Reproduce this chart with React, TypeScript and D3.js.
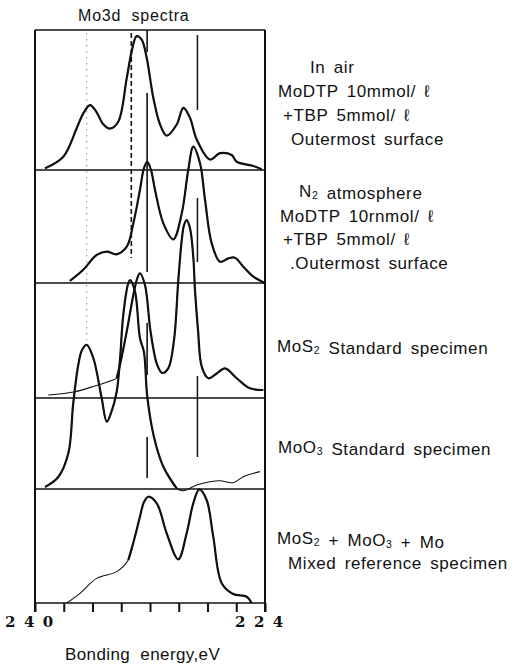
import React, { useEffect, useRef } from 'react';
import * as d3 from 'd3';

// [binding energy eV, intensity a.u.]
const inAir: [number, number][] = [
  [239.3, 1.2], [238.03, 9.5], [237.1, 29.8], [236.64, 40.5], [236.17, 46.4], [235.71, 41.2],
  [235.27, 32.9], [234.78, 29.6], [234.21, 34.5], [233.62, 65.5], [233.27, 84.9], [232.93, 95.6],
  [232.58, 93.2], [232.23, 80.1], [231.77, 51.6], [231.3, 32.5], [230.84, 24.5], [230.14, 32.5],
  [229.68, 44.4], [229.22, 37.3], [228.75, 21.8], [227.83, 7.5], [227.13, 12.0], [226.32, 10.7],
  [225.97, 5.9], [224.81, 2.9], [224.23, 0.5],
];
const n2Atmosphere: [number, number][] = [
  [237.57, 1.6], [236.66, 9.3], [235.71, 20.0], [235.01, 22.4], [234.32, 20.5], [233.62, 25.9],
  [233.16, 42.6], [232.7, 66.4], [232.42, 82.1], [232.19, 86.6], [231.93, 80.7], [231.65, 66.4],
  [231.07, 42.6], [230.38, 31.2], [229.79, 49.8], [229.34, 80.7], [228.99, 97.4], [228.52, 85.5],
  [228.17, 59.3], [227.71, 28.4], [227.13, 15.2], [226.55, 17.6], [226.09, 18.1], [225.51, 11.6],
  [224.81, 4.5], [224.0, 0],
];
const mos2Standard: [number, number][] = [
  [239.07, 2.1], [237.22, 4.5], [235.83, 8.6], [234.78, 12.1], [234.32, 14.3], [234.09, 23.6],
  [233.62, 47.4], [233.16, 73.6], [232.9, 85], [232.7, 89.1], [232.35, 80.7], [231.96, 47.4],
  [231.5, 23.6], [231.15, 17.9], [230.73, 21.2], [230.33, 41.4], [230.03, 84.3], [229.79, 112.9],
  [229.63, 123.6], [229.45, 127.1], [229.22, 121.4], [228.99, 100.9], [228.87, 77.1], [228.66, 48.6],
  [228.4, 22.4], [227.94, 14.1], [227.41, 17.1], [226.78, 21.2], [225.97, 14.1], [225.04, 6.9],
  [224.12, 5.7],
];
const moo3Standard: [number, number][] = [
  [239.3, 1.4], [238.38, 8.6], [237.68, 25.5], [237.34, 61.2], [236.99, 88.6], [236.73, 99.3],
  [236.4, 102.9], [235.94, 93.4], [235.36, 64.8], [235.01, 48.1], [234.71, 54.3], [234.32, 69.3],
  [234.09, 92.1], [233.86, 124.3], [233.51, 147.1], [233.39, 149.3], [233.04, 140.9], [232.7, 107.9],
  [232.42, 97.9], [232.19, 65.9], [231.73, 37.4], [231.07, 15.9], [230.14, 0.5], [229.68, -1.2],
  [228.75, 2.9], [227.83, 5.2], [227.13, 5.9], [226.21, 4.5], [225.51, 8.8], [224.35, 12.4],
];
const mixedReference: [number, number][] = [
  [237.79, 0], [236.87, 6.9], [235.71, 17.6], [234.32, 22.4], [233.51, 30.7], [233.11, 45],
  [232.7, 61.6], [232.42, 72.1], [232.12, 75.9], [231.53, 71.2], [230.84, 49.8], [230.03, 31.2],
  [229.45, 49.8], [228.99, 71.2], [228.57, 81.2], [228.06, 73.6], [227.6, 47.4], [227.01, 14.1],
  [226.21, 6.4], [225.27, 4.5], [224.93, 0],
];

// energies of the thick part of each trace (the rest is drawn thin)
const thickRanges: [number, number][] = [[240, 224], [240, 224], [234.35, 224], [240, 229.9], [233.6, 224]];

const tickValues = [240, 238, 236, 234, 232, 230, 228, 226, 224];
const tickLabels = ['240', '224'];
const refEnergies = [236.4, 233.3, 232.2, 228.7];

const labelBlocks = [
  ['In air', 'MoDTP 10mmol/ ℓ', '+TBP 5mmol/ ℓ', 'Outermost surface'],
  ['N_2 atmosphere', 'MoDTP 10rnmol/ ℓ', '+TBP 5mmol/ ℓ', '.Outermost surface'],
  ['MoS_2 Standard specimen'],
  ['MoO_3 Standard specimen'],
  ['MoS_2 + MoO_3 + Mo', 'Mixed reference specimen'],
];

const W = 518;
const H = 667;
const box = { left: 35, right: 265, top: 30, bottom: 603 };
const baselines = [170, 283, 398, 489, 603];
const labelPos = [
  [[310, 73], [278, 97], [283, 121], [291, 145]],
  [[299, 197], [280, 221.5], [283, 245], [290, 268.5]],
  [[277, 352]],
  [[278, 453]],
  [[277, 544], [288, 569]],
];
const refSegments = [
  { segs: [[33, 340]], dash: '1.5,4.5', w: 1, color: '#8a8a8a' },
  { segs: [[33, 258]], dash: '5,3', w: 1.6, color: '#111' },
  { segs: [[30, 52], [93, 272], [323, 375], [437, 478]], dash: null, w: 1.6, color: '#111' },
  { segs: [[35, 110], [198, 262], [376, 457]], dash: null, w: 1.5, color: '#111' },
];
const sans = '"Liberation Sans", Arial, sans-serif';

const addRichText = (sel: any, text: string) => {
  text.split(/(_\d)/).forEach((part) => {
    if (part.startsWith('_')) {
      sel.append('tspan').attr('dy', 2).attr('font-size', 10.5).text(part.slice(1));
      sel.append('tspan').attr('dy', -2).text('');
    } else if (part) {
      sel.append('tspan').text(part);
    }
  });
};

const Chart = () => {
  const svgRef = useRef<SVGSVGElement>(null);

  useEffect(() => {
    const svg = d3.select(svgRef.current);
    svg.selectAll('*').remove();

    const x = d3.scaleLinear().domain([240, 224]).range([box.left, box.right]);
    const h = d3.scaleLinear().domain([0, 100]).range([0, 140]);

    // frame
    svg.append('line').attr('x1', box.left).attr('x2', box.right).attr('y1', box.top).attr('y2', box.top)
      .attr('stroke', '#111').attr('stroke-width', 1.5);
    [box.left, box.right].forEach((xx) => {
      svg.append('line').attr('x1', xx).attr('x2', xx).attr('y1', box.top).attr('y2', box.bottom + 9)
        .attr('stroke', '#111').attr('stroke-width', 2);
    });
    baselines.forEach((b) => {
      svg.append('line').attr('x1', box.left).attr('x2', box.right).attr('y1', b).attr('y2', b)
        .attr('stroke', '#111').attr('stroke-width', 1.4);
    });

    // bottom axis
    const axis = svg.append('g').attr('transform', `translate(0, ${box.bottom})`)
      .call(d3.axisBottom(x).tickValues(tickValues).tickSize(9).tickFormat(() => ''));
    axis.select('.domain').remove();
    axis.selectAll('.tick line').attr('stroke', '#111').attr('stroke-width', 2);

    tickLabels.forEach((t) => {
      svg.append('text').attr('x', x(+t) - 30).attr('y', 627)
        .attr('font-family', '"DejaVu Serif", serif').attr('font-size', 15).attr('font-weight', 'bold')
        .attr('letter-spacing', 8.5).attr('fill', '#111').text(t);
    });

    // reference lines
    refEnergies.forEach((e, i) => {
      const st = refSegments[i];
      st.segs.forEach(([y1, y2]) => {
        svg.append('line').attr('x1', x(e)).attr('x2', x(e)).attr('y1', y1).attr('y2', y2)
          .attr('stroke', st.color).attr('stroke-width', st.w)
          .attr('stroke-dasharray', st.dash);
      });
    });

    // spectra
    const spectra = [inAir, n2Atmosphere, mos2Standard, moo3Standard, mixedReference];
    spectra.forEach((data, i) => {
      const line = d3.line<[number, number]>()
        .x((d) => x(d[0]))
        .y((d) => baselines[i] - h(d[1]))
        .curve(d3.curveCatmullRom.alpha(0.5));
      svg.append('path').attr('d', line(data)).attr('fill', 'none')
        .attr('stroke', '#111').attr('stroke-width', 1.1);
      const [hi, lo] = thickRanges[i];
      const thick = data.filter((d) => d[0] <= hi && d[0] >= lo);
      svg.append('path').attr('d', line(thick)).attr('fill', 'none')
        .attr('stroke', '#111').attr('stroke-width', 2.2).attr('stroke-linejoin', 'round');
    });

    // texts
    svg.append('text').attr('x', 78).attr('y', 21).attr('font-family', sans).attr('font-size', 16)
      .attr('letter-spacing', 0.8).attr('word-spacing', 5).attr('fill', '#111').text('Mo3d spectra');

    labelBlocks.forEach((block, bi) => {
      block.forEach((ln, li) => {
        const [lx, ly] = labelPos[bi][li];
        const t = svg.append('text').attr('x', lx).attr('y', ly).attr('font-family', sans)
          .attr('font-size', 17).attr('letter-spacing', 0.6).attr('word-spacing', 3).attr('fill', '#111');
        addRichText(t, ln);
      });
    });

    svg.append('text').attr('x', 65).attr('y', 660).attr('font-family', sans).attr('font-size', 17)
      .attr('letter-spacing', 0.4).attr('word-spacing', 5).attr('fill', '#111').text('Bonding energy,eV');
  }, []);

  return (
    <svg ref={svgRef} width={W} height={H}
      style={{ position: 'absolute', left: 0, top: 0, background: '#fff' }} />
  );
};

export default function App() {
  return <Chart />;
}
